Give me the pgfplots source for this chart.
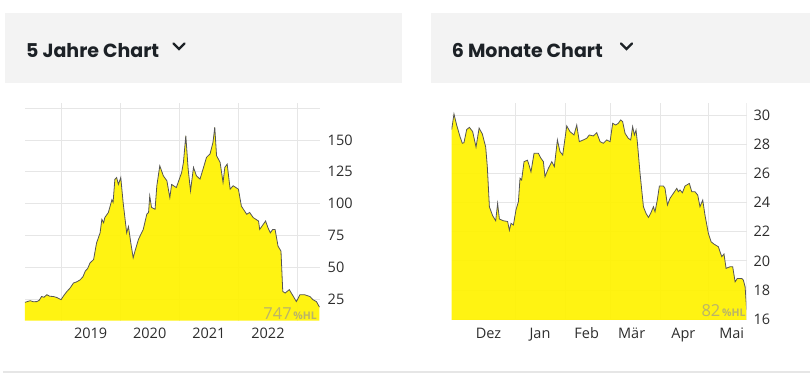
\documentclass[border=0pt]{standalone}
\usepackage{fontspec}
\setmainfont{Open Sans}
\newfontfamily\hdr{Poppins}
\usepackage{pgfplots}
\usepackage{pgfplotstable}
\pgfplotsset{compat=1.18}
\definecolor{hdrbg}{RGB}{243,243,243}
\definecolor{hdrtext}{RGB}{28,33,38}
\definecolor{ticktext}{RGB}{45,45,45}
\definecolor{gridc}{RGB}{230,230,230}
\definecolor{chartyellow}{RGB}{255,242,0}
\definecolor{linec}{RGB}{85,85,85}
\definecolor{wm}{RGB}{186,180,104}

\pgfplotstableread{
x y
2018.39 22.4
2018.44 23.2
2018.48 23.7
2018.53 22.9
2018.59 23.0
2018.63 24.0
2018.67 27.0
2018.71 26.4
2018.76 28.4
2018.81 27.2
2018.87 27.0
2018.93 26.2
2019.00 24.5
2019.05 28.0
2019.10 31.0
2019.15 33.5
2019.21 37.6
2019.26 38.4
2019.32 40.0
2019.37 42.5
2019.41 47.0
2019.45 49.0
2019.49 53.4
2019.55 56.0
2019.60 69.0
2019.66 77.0
2019.69 87.6
2019.72 85.0
2019.74 89.0
2019.80 93.0
2019.86 103.0
2019.88 101.0
2019.91 119.0
2019.94 120.5
2019.97 115.0
2020.01 120.5
2020.05 100.8
2020.11 77.0
2020.14 82.0
2020.18 69.0
2020.22 57.4
2020.25 62.6
2020.31 72.0
2020.39 79.7
2020.45 91.6
2020.48 93.0
2020.50 106.0
2020.53 97.0
2020.59 95.5
2020.62 114.0
2020.67 129.7
2020.73 121.8
2020.79 117.9
2020.84 104.7
2020.87 115.0
2020.95 112.6
2021.01 120.5
2021.04 124.5
2021.07 132.4
2021.11 153.4
2021.15 127.0
2021.19 110.0
2021.24 128.4
2021.29 121.8
2021.35 119.2
2021.41 128.4
2021.46 136.3
2021.52 139.0
2021.57 148.2
2021.60 160.0
2021.63 137.6
2021.69 132.4
2021.74 116.6
2021.77 128.4
2021.81 131.0
2021.86 111.3
2021.91 114.0
2022.00 111.3
2022.05 98.0
2022.14 91.6
2022.19 93.0
2022.25 89.0
2022.34 86.3
2022.36 79.7
2022.42 83.7
2022.46 86.3
2022.50 81.0
2022.54 77.0
2022.58 79.7
2022.62 79.7
2022.67 66.6
2022.72 62.6
2022.75 31.0
2022.79 29.7
2022.86 32.4
2022.93 27.0
2022.98 23.0
2023.04 28.4
2023.12 28.4
2023.21 27.0
2023.26 24.5
2023.32 23.0
2023.37 18.7
}\fiveY

\pgfplotstableread{
x y
-39.3 29.00
-37.9 30.07
-36.2 29.30
-34.1 28.50
-32.7 28.06
-31.7 28.10
-30.0 29.00
-28.3 29.15
-26.3 28.86
-24.2 27.80
-22.3 29.10
-20.3 28.70
-18.2 27.80
-17.2 26.46
-15.9 23.70
-13.9 23.10
-12.0 22.75
-10.8 23.94
-9.7 22.87
-7.2 22.75
-4.6 22.70
-3.5 22.10
-2.5 22.57
-1.0 22.46
0.6 23.50
2.1 24.06
3.1 25.66
4.1 25.54
5.6 26.80
7.7 26.90
8.7 26.57
9.9 26.10
11.8 27.37
14.5 27.37
16.1 27.03
17.6 26.80
18.6 25.77
20.7 26.34
22.8 26.80
24.4 26.46
26.3 28.29
27.9 27.49
29.6 27.26
32.1 29.25
34.1 28.86
36.6 28.63
38.3 29.31
39.9 28.17
42.4 28.29
44.5 28.40
46.1 28.63
48.6 28.56
50.7 28.79
52.8 28.17
54.8 28.06
56.9 28.29
59.0 28.17
60.6 29.43
62.5 29.31
64.1 29.43
65.6 29.66
66.8 29.54
68.3 28.74
70.3 28.40
71.8 28.29
73.0 29.20
74.1 28.63
75.1 28.97
75.9 28.17
77.6 26.00
79.7 23.71
81.3 23.26
82.8 22.98
84.2 23.26
85.9 23.71
86.9 23.37
88.3 24.17
89.6 25.13
92.1 25.13
93.1 24.97
94.6 23.83
96.2 24.29
98.3 24.63
100.4 24.97
101.4 24.74
102.4 24.86
103.9 24.67
105.5 25.13
108.2 25.31
109.7 24.74
111.7 24.74
113.4 24.51
114.8 23.71
116.5 24.17
117.9 23.14
120.0 21.89
121.7 21.31
123.5 21.15
126.2 20.97
128.3 20.29
129.7 20.47
131.0 19.49
133.5 19.60
135.1 19.60
136.6 18.57
138.0 18.80
140.7 18.80
141.7 18.69
142.8 18.23
143.8 16.63
}\sixM

\pgfplotsset{chartstyle/.style={
  scale only axis,
  axis line style={draw=none},
  major tick length=0pt, minor tick length=0pt,
  tick label style={font=\fontsize{14.5}{16}\selectfont, text=ticktext},
  grid style={gridc, line width=0.8pt},
  minor grid style={gridc, line width=0.8pt},
  ymajorgrids, xminorgrids, xmajorgrids=false,
  yticklabel pos=right,
  yticklabel style={anchor=west, inner sep=0pt},
  xticklabel style={anchor=north, inner sep=0pt, yshift=-7.5pt},
  /pgf/number format/assume math mode=true,
}}

\begin{document}
\begin{tikzpicture}[x=1pt,y=1pt]
\path[use as bounding box] (0,0) rectangle (810,374);
\fill[hdrbg] (5,291.3) rectangle (401.7,361.3);
\fill[hdrbg] (430.7,291.3) rectangle (810,361.3);
\node[anchor=base west, inner sep=0pt, text=hdrtext, font=\hdr\bfseries\fontsize{19}{19}\selectfont] at (26,316.7) {5 Jahre Chart};
\draw[hdrtext, line width=2.4pt, line cap=round] (173.5,330.5) -- (179,325) -- (184.5,330.5);
\node[anchor=base west, inner sep=0pt, text=hdrtext, font=\hdr\bfseries\fontsize{19}{19}\selectfont] at (451.7,316.7) {6 Monate Chart};
\draw[hdrtext, line width=2.4pt, line cap=round] (621,330.5) -- (626.5,325) -- (632,330.5);
\draw[gridc, line width=1.5pt] (3,2) -- (810,2);

\begin{axis}[chartstyle, at={(25pt,53.3pt)}, anchor=south west,
  width=295pt, height=217.7pt,
  xmin=2018.39, xmax=2023.38, ymin=8, ymax=179,
  xtick={2019.5,2020.5,2021.5,2022.5},
  xticklabels={2019,2020,2021,2022},
  minor xtick={2019,2020,2021,2022,2023},
  ytick={25,50,75,100,125,150,175},
  yticklabels={25,50,75,100,125,150,{}},
  yticklabel style={xshift=7.5pt}]
\addplot[fill=chartyellow, draw=none, fill opacity=0.93] table {\fiveY} \closedcycle;
\addplot[draw=linec, line width=0.8pt] table {\fiveY};
\node[anchor=base east, inner sep=0pt, text=wm, xshift=-3pt, yshift=1.5pt] at (rel axis cs:1,0) {{\fontsize{16.5}{16}\selectfont 747}\,{\fontsize{10.5}{11}\selectfont\bfseries \%HL}};
\end{axis}

\begin{axis}[chartstyle, at={(451.7pt,54pt)}, anchor=south west,
  width=295pt, height=217pt,
  xmin=-39.3, xmax=143.8, ymin=15.95, ymax=30.82,
  xtick={-16.5,15.5,44.5,72.4,104.5,134.5},
  xticklabels={Dez,Jan,Feb,Mär,Apr,Mai},
  minor xtick={0,31,59,90,120},
  ytick={16,18,...,30},
  yticklabel style={xshift=6.6pt}]
\addplot[fill=chartyellow, draw=none, fill opacity=0.93] table {\sixM} \closedcycle;
\addplot[draw=linec, line width=0.8pt] table {\sixM};
\draw[gridc, line width=0.8pt] (rel axis cs:1,0) -- (rel axis cs:1,1);
\node[anchor=base east, inner sep=0pt, text=wm, xshift=-1pt, yshift=3pt] at (rel axis cs:1,0) {{\fontsize{16.5}{16}\selectfont 82}\,{\fontsize{10.5}{11}\selectfont\bfseries \%HL}};
\end{axis}
\end{tikzpicture}
\end{document}
